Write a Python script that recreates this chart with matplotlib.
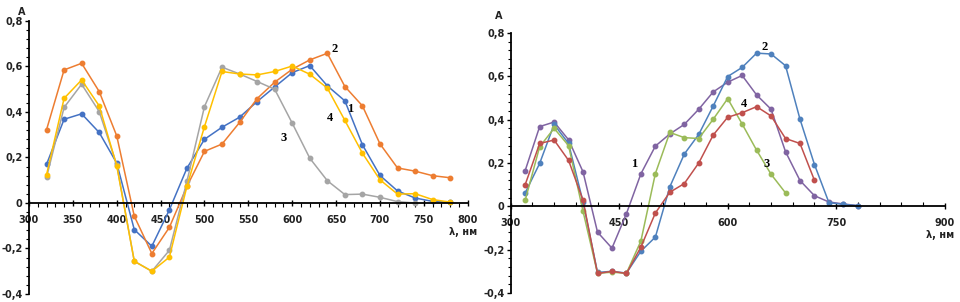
import numpy as np
import matplotlib
matplotlib.use("Agg")
import matplotlib.pyplot as plt
from matplotlib.ticker import MultipleLocator, FuncFormatter

# left panel: wavelength grid and the four spectra
wl_a = [320, 340, 360, 380, 400, 420, 440, 460, 480, 500, 520, 540,
        560, 580, 600, 620, 640, 660, 680, 700, 720, 740, 760, 780]
a1 = [0.17, 0.368, 0.392, 0.31, 0.175, -0.117, -0.19, -0.03, 0.153, 0.28, 0.333, 0.377,
      0.446, 0.51, 0.573, 0.604, 0.515, 0.449, 0.256, 0.121, 0.053, 0.022, 0.007, 0.003]
a2 = [0.322, 0.585, 0.614, 0.49, 0.295, -0.058, -0.222, -0.107, 0.073, 0.227, 0.259, 0.354,
      0.459, 0.531, 0.588, 0.629, 0.658, 0.512, 0.427, 0.26, 0.154, 0.14, 0.12, 0.111]
a3 = [0.113, 0.42, 0.522, 0.402, 0.168, -0.256, -0.30, -0.208, 0.095, 0.424, 0.597, 0.567,
      0.534, 0.50, 0.351, 0.197, 0.098, 0.037, 0.039, 0.025, 0.006, 0.0]
a4 = [0.124, 0.46, 0.541, 0.427, 0.164, -0.256, -0.30, -0.238, 0.073, 0.336, 0.578, 0.567,
      0.563, 0.578, 0.602, 0.566, 0.505, 0.363, 0.219, 0.102, 0.039, 0.041, 0.015, 0.004]

# right panel
wl_b = wl_a
b1 = [0.165, 0.368, 0.389, 0.307, 0.159, -0.119, -0.193, -0.034, 0.15, 0.278, 0.334, 0.378,
      0.448, 0.528, 0.573, 0.604, 0.514, 0.448, 0.252, 0.119, 0.049, 0.02, 0.011, 0.003]
b2 = [0.062, 0.198, 0.378, 0.29, 0.02, -0.305, -0.30, -0.308, -0.207, -0.142, 0.09, 0.241,
      0.332, 0.463, 0.599, 0.641, 0.707, 0.703, 0.649, 0.402, 0.193, 0.017, 0.009, 0.003]
b3 = [0.028, 0.275, 0.36, 0.28, -0.023, -0.309, -0.304, -0.309, -0.16, 0.151, 0.341, 0.317,
      0.313, 0.402, 0.497, 0.38, 0.259, 0.148, 0.062]
b4 = [0.10, 0.29, 0.306, 0.212, 0.028, -0.31, -0.30, -0.31, -0.188, -0.031, 0.065, 0.105,
      0.20, 0.329, 0.411, 0.432, 0.46, 0.417, 0.313, 0.29, 0.12]

fig = plt.figure(figsize=(9.6, 3.02), dpi=100)
ax1 = fig.add_axes([0.0302, 0.0265, 0.457, 0.904])
ax2 = fig.add_axes([0.532, 0.0298, 0.452, 0.861])


def fmt(v, p):
    if abs(v) < 1e-9:
        return "0"
    return ("%.1f" % v).replace(".", ",")


def setup(ax, xmax, xmaj, xmin, minor_dir):
    ax.set_xlim(300, xmax)
    ax.set_ylim(-0.4, 0.8)
    for s in ["top", "right"]:
        ax.spines[s].set_visible(False)
    ax.spines["bottom"].set_position(("data", 0))
    ax.spines["bottom"].set_linewidth(1.3)
    ax.spines["left"].set_linewidth(1.3)
    ax.xaxis.set_major_locator(MultipleLocator(xmaj))
    ax.xaxis.set_minor_locator(MultipleLocator(xmin))
    ax.yaxis.set_major_locator(MultipleLocator(0.2))
    ax.yaxis.set_minor_locator(MultipleLocator(0.04))
    ax.yaxis.set_major_formatter(FuncFormatter(fmt))
    ax.tick_params(axis="x", which="major", direction="inout", length=5, width=1, pad=6,
                   labelsize=7)
    ax.tick_params(axis="x", which="minor", direction=minor_dir, length=3, width=0.8)
    ax.tick_params(axis="y", which="major", direction="out", length=3, width=1, pad=1.5,
                   labelsize=7)
    ax.tick_params(axis="y", which="minor", direction="out", length=2, width=0.8)
    for lab in ax.get_xticklabels() + ax.get_yticklabels():
        lab.set_fontweight("bold")
        lab.set_color("#222222")


def curve(ax, x, y, c):
    ax.plot(x[:len(y)], y, color=c, lw=1.1, marker="o", ms=3.2, mec=c, mfc=c)


setup(ax1, 800, 50, 10, "out")
curve(ax1, wl_a, a1, "#4472C4")
curve(ax1, wl_a, a2, "#ED7D31")
curve(ax1, wl_a, a3, "#A5A5A5")
curve(ax1, wl_a, a4, "#FFC000")

setup(ax2, 900, 150, 30, "in")
curve(ax2, wl_b, b1, "#8064A2")
curve(ax2, wl_b, b2, "#4F81BD")
curve(ax2, wl_b, b3, "#9BBB59")
curve(ax2, wl_b, b4, "#C0504D")

num = dict(fontsize=9, fontweight="bold", family="Liberation Serif", ha="center", va="center")
ax1.text(648, 0.677, "2", **num)
ax1.text(666, 0.413, "1", **num)
ax1.text(643, 0.374, "4", **num)
ax1.text(590, 0.286, "3", **num)
ax2.text(471, 0.194, "1", **num)
ax2.text(651, 0.735, "2", **num)
ax2.text(654, 0.194, "3", **num)
ax2.text(623, 0.47, "4", **num)

lab = dict(fontsize=7, fontweight="bold", color="#222222")
fig.text(22 / 960, 1 - 12 / 302, "A", ha="center", va="center", **lab)
fig.text(499 / 960, 1 - 16 / 302, "A", ha="center", va="center", **lab)
fig.text(463 / 960, 1 - 232 / 302, "λ, нм", ha="center", va="center", **lab)
fig.text(940 / 960, 1 - 235 / 302, "λ, нм", ha="center", va="center", **lab)

fig.savefig("out.png", dpi=100)
